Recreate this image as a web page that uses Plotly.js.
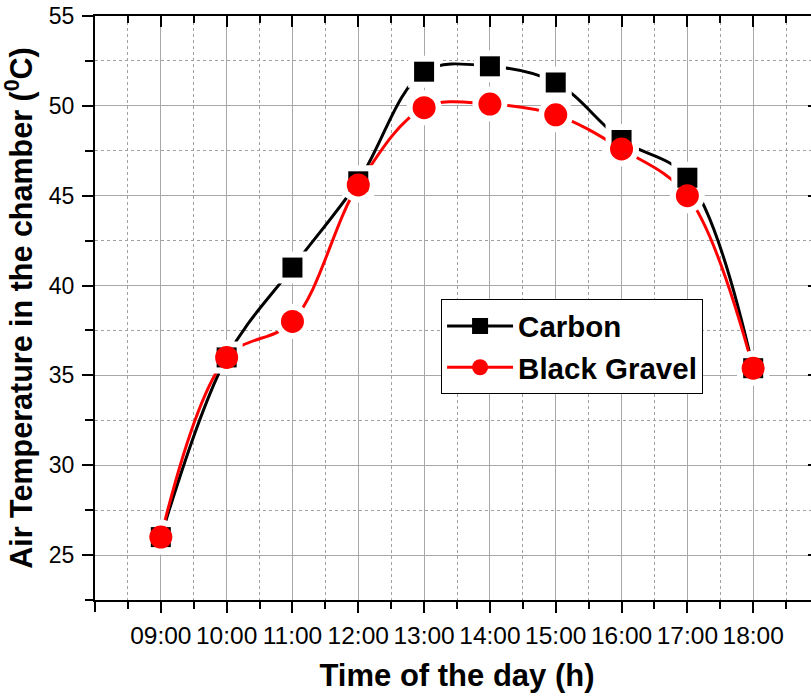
<!DOCTYPE html>
<html>
<head>
<meta charset="utf-8">
<script src="https://cdn.plot.ly/plotly-3.0.1.min.js"></script>
<style>
html,body{margin:0;padding:0;overflow:hidden;background:#fff;}
#chart{width:830px;height:698px;}
</style>
</head>
<body>
<div id="chart"></div>
<script>
// Data
const hours = [9, 10, 11, 12, 13, 14, 15, 16, 17, 18];
const carbon = [26.0, 36.0, 41.0, 45.8, 51.9, 52.2, 51.3, 48.1, 46.0, 35.4];
const blackGravel = [26.0, 36.0, 38.0, 45.6, 49.9, 50.1, 49.5, 47.6, 45.0, 35.4];
const tickLabels = ['09:00', '10:00', '11:00', '12:00', '13:00', '14:00', '15:00', '16:00', '17:00', '18:00'];
const frameTicks = [8, 9, 10, 11, 12, 13, 14, 15, 16, 17, 18, 19];
const edgeTicks = [8, 19];
const seriesNames = ['Carbon', 'Black Gravel'];

const FONT = 'Arial, "Liberation Sans", sans-serif';
const gridMajor = '#a8a8a8';
const gridMinor = '#a0a0a0';

const traces = [
  {x: hours, y: carbon, name: seriesNames[0], mode: 'lines+markers', type: 'scatter',
   line: {color: '#000000', width: 3, shape: 'spline', smoothing: 1},
   marker: {symbol: 'square', size: 20, color: '#000000'}},
  {x: hours, y: blackGravel, name: seriesNames[1], mode: 'lines+markers', type: 'scatter',
   line: {color: '#ff0000', width: 3, shape: 'spline', smoothing: 1},
   marker: {symbol: 'circle', size: 23, color: '#ff0000'}},
  // gaps around symbols
  {x: hours, y: carbon, mode: 'markers', showlegend: false, hoverinfo: 'skip',
   marker: {symbol: 'square', size: 32, color: '#ffffff'}},
  {x: hours, y: blackGravel, mode: 'markers', showlegend: false, hoverinfo: 'skip',
   marker: {symbol: 'circle', size: 35, color: '#ffffff'}},
  // symbols on top
  {x: hours, y: carbon, mode: 'markers', showlegend: false, hoverinfo: 'skip',
   marker: {symbol: 'square', size: 20, color: '#000000'}},
  {x: hours, y: blackGravel, mode: 'markers', showlegend: false, hoverinfo: 'skip',
   marker: {symbol: 'circle', size: 23, color: '#ff0000'}},
  // frame axes (top / right / bottom edge ticks)
  {x: [], y: [], xaxis: 'x2', yaxis: 'y2', showlegend: false, hoverinfo: 'skip', mode: 'markers'},
  {x: [], y: [], xaxis: 'x3', yaxis: 'y', showlegend: false, hoverinfo: 'skip', mode: 'markers'}
];

const layout = {
  width: 830, height: 698,
  margin: {l: 95, r: 11, t: 16, b: 98},
  paper_bgcolor: '#ffffff', plot_bgcolor: '#ffffff',
  font: {family: FONT, color: '#000000', size: 23},
  showlegend: true,
  legend: {
    x: 0.478, y: 0.515, xanchor: 'left', yanchor: 'top',
    bgcolor: '#ffffff', bordercolor: '#000000', borderwidth: 1,
    font: {family: FONT, size: 29.5, weight: 700, color: '#000000'},
    itemwidth: 66
  },
  xaxis: {
    range: [8, 19], tickmode: 'array', tickvals: hours, ticktext: tickLabels,
    showline: true, linecolor: '#000000', linewidth: 2,
    ticks: 'outside', ticklen: 11, tickwidth: 2, tickcolor: '#000000',
    showgrid: true, gridcolor: gridMajor, gridwidth: 1,
    zeroline: false, ticklabelstandoff: 2,
    tickfont: {family: FONT, size: 24.5, color: '#000000'},
    minor: {tickmode: 'linear', tick0: 8.5, dtick: 1, ticks: 'outside', ticklen: 7, tickwidth: 2,
            tickcolor: '#000000', showgrid: true, gridcolor: gridMinor, griddash: 'dot', gridwidth: 1},
    title: {text: 'Time of the day (h)', font: {family: FONT, size: 31, weight: 700, color: '#000000'}, standoff: 16},
    automargin: false
  },
  xaxis3: {
    overlaying: 'x', side: 'bottom', anchor: 'y', range: [8, 19],
    tickmode: 'array', tickvals: edgeTicks, showticklabels: false,
    showline: false, ticks: 'outside', ticklen: 11, tickwidth: 2, tickcolor: '#000000',
    showgrid: false, zeroline: false
  },
  yaxis: {
    range: [22.5, 55], tickmode: 'linear', tick0: 25, dtick: 5,
    showline: true, linecolor: '#000000', linewidth: 2,
    ticks: 'outside', ticklen: 11, tickwidth: 2, tickcolor: '#000000',
    showgrid: true, gridcolor: gridMajor, gridwidth: 1,
    zeroline: false, ticklabelstandoff: 3,
    tickfont: {family: FONT, size: 23, color: '#000000'},
    minor: {tickmode: 'linear', tick0: 22.5, dtick: 5, ticks: 'outside', ticklen: 8, tickwidth: 2,
            tickcolor: '#000000', showgrid: true, gridcolor: gridMinor, griddash: 'dot', gridwidth: 1},
    title: {text: 'Air Temperature in the chamber (<sup>0</sup>C)', font: {family: FONT, size: 30.5, weight: 700, color: '#000000'}, standoff: 8},
    automargin: false
  },
  xaxis2: {
    overlaying: 'x', side: 'top', anchor: 'y2', range: [8, 19],
    tickmode: 'array', tickvals: frameTicks, showticklabels: false,
    showline: true, linecolor: '#000000', linewidth: 2,
    ticks: 'inside', ticklen: 11, tickwidth: 2, tickcolor: '#000000',
    showgrid: false, zeroline: false,
    minor: {tickmode: 'linear', tick0: 8.5, dtick: 1, ticks: 'inside', ticklen: 7, tickwidth: 2, tickcolor: '#000000', showgrid: false}
  },
  yaxis2: {
    overlaying: 'y', side: 'right', anchor: 'x2', range: [22.5, 55],
    tickmode: 'linear', tick0: 25, dtick: 5, showticklabels: false,
    showline: true, linecolor: '#000000', linewidth: 2,
    ticks: 'inside', ticklen: 11, tickwidth: 2, tickcolor: '#000000',
    showgrid: false, zeroline: false,
    minor: {tickmode: 'linear', tick0: 22.5, dtick: 5, ticks: 'inside', ticklen: 8, tickwidth: 2, tickcolor: '#000000', showgrid: false}
  }
};

Plotly.newPlot('chart', traces, layout, {displayModeBar: false, staticPlot: true});
</script>
</body>
</html>
